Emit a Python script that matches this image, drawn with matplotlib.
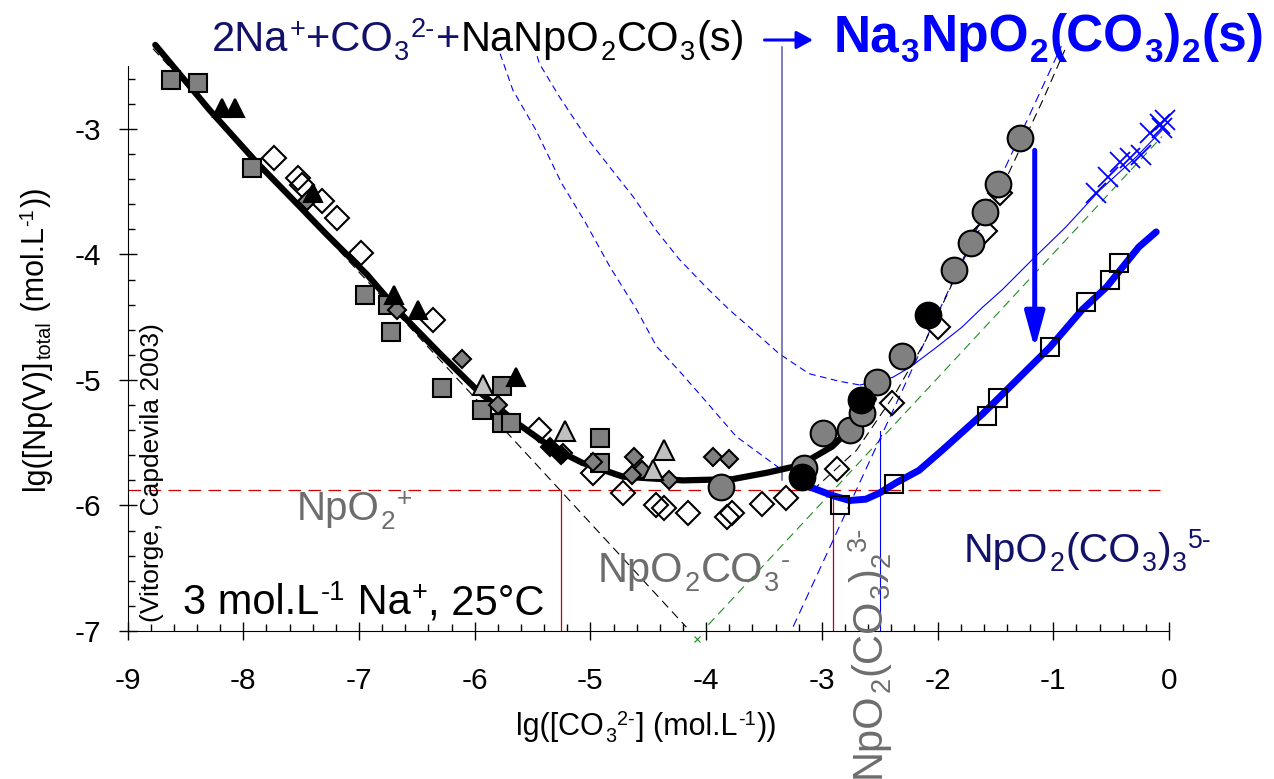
import matplotlib
matplotlib.use('Agg')
import matplotlib.pyplot as plt
import numpy as np
from matplotlib.transforms import IdentityTransform
from matplotlib.patches import FancyArrowPatch

plt.rcParams['font.family'] = ['Liberation Sans', 'DejaVu Sans']
plt.rcParams['axes.unicode_minus'] = False

# model curves
fit_x = [-8.76, -8.29, -7.88, -7.51, -7.28, -6.93, -6.65, -6.30, -5.98, -5.64,
         -5.35, -5.07, -4.72, -4.20, -3.77, -3.48, -3.19, -2.91, -2.70, -2.55]
fit_y = [-2.33, -2.85, -3.27, -3.62, -3.84, -4.16, -4.46, -4.79, -5.08, -5.34,
         -5.53, -5.66, -5.77, -5.80, -5.79, -5.74, -5.68, -5.53, -5.34, -5.15]
na3_x = [-3.11, -2.91, -2.76, -2.62, -2.50, -2.36, -2.16, -1.96, -1.61, -1.26,
         -1.03, -0.75, -0.54, -0.40, -0.26, -0.11]
na3_y = [-5.85, -5.92, -5.96, -5.95, -5.90, -5.82, -5.72, -5.56, -5.27, -4.95,
         -4.74, -4.44, -4.26, -4.10, -3.94, -3.82]
npo2_x = [-8.78, -4.17]
npo2_y = [-2.36, -6.97]
dic_x = [-3.98, -0.06]
dic_y = [-6.95, -3.06]
tri_x = [-3.30, -0.93]
tri_y = [-7.07, -2.34]
sum_x = [-3.08, -2.70, -2.36, -2.10, -1.78, -1.44, -1.09, -0.90]
sum_y = [-5.88, -5.56, -5.10, -4.68, -4.05, -3.46, -2.77, -2.37]
bl1_x = [-5.78, -5.67, -5.47, -5.25, -5.04, -4.83, -4.60, -4.43, -4.23, -4.03, -3.74, -3.34]
bl1_y = [-2.40, -2.69, -3.01, -3.43, -3.75, -4.10, -4.44, -4.73, -4.93, -5.14, -5.45, -5.72]
bl2_x = [-5.46, -5.44, -5.27, -5.04, -4.81, -4.63, -4.43, -4.23, -4.00, -3.80, -3.60,
         -3.37, -3.11, -2.85, -2.67]
bl2_y = [-2.42, -2.48, -2.74, -3.06, -3.33, -3.54, -3.81, -4.04, -4.26, -4.44, -4.60,
         -4.79, -4.95, -5.01, -5.04]
bl3_x = [-2.67, -2.39, -2.24, -2.01, -1.79, -1.61, -1.44, -1.18, -0.89, -0.60, -0.28, -0.06]
bl3_y = [-5.04, -4.98, -4.90, -4.74, -4.58, -4.42, -4.28, -4.04, -3.78, -3.49, -3.22, -3.01]
carb_level = -5.88

# experimental points
gsq_x = [-8.62, -8.39, -7.92, -6.95, -6.75, -6.72, -6.28, -5.94, -5.76, -5.76, -5.69, -4.92, -4.92]
gsq_y = [-2.61, -2.63, -3.31, -4.32, -4.40, -4.62, -5.06, -5.24, -5.05, -5.34, -5.34, -5.46, -5.66]
gdi_x = [-7.45, -6.67, -6.11, -5.80, -5.24, -4.98, -4.62, -4.55, -4.64, -4.32, -3.94, -3.80]
gdi_y = [-3.57, -4.44, -4.83, -5.20, -5.58, -5.65, -5.61, -5.72, -5.76, -5.80, -5.61, -5.63]
odi_x = [-7.73, -7.53, -7.49, -7.32, -7.19, -6.98, -6.36, -5.44, -4.98, -4.72, -4.43, -4.36,
         -4.16, -3.82, -3.78, -3.52, -3.31, -2.87, -2.39, -2.00, -1.59, -1.46]
odi_y = [-3.23, -3.39, -3.45, -3.57, -3.71, -3.99, -4.52, -5.40, -5.74, -5.90, -6.00, -6.02,
         -6.06, -6.09, -6.06, -5.99, -5.94, -5.71, -5.18, -4.58, -3.81, -3.51]
ltr_x = [-5.93, -5.22, -4.36, -4.46]
ltr_y = [-5.04, -5.41, -5.56, -5.72]
btr_x = [-8.18, -8.07, -7.40, -6.70, -6.49, -5.64]
btr_y = [-2.83, -2.83, -3.51, -4.32, -4.44, -4.98]
bdi_x = [-5.35, -5.25]
bdi_y = [-5.53, -5.60]
gci_x = [-3.87, -3.15, -2.99, -2.76, -2.65, -2.52, -2.31, -1.86, -1.71, -1.59, -1.48, -1.29]
gci_y = [-5.85, -5.70, -5.42, -5.40, -5.26, -5.02, -4.81, -4.12, -3.91, -3.66, -3.44, -3.07]
bci_x = [-3.17, -2.66, -2.08]
bci_y = [-5.77, -5.16, -4.48]
osq_x = [-2.84, -2.38, -1.57, -1.48, -1.03, -0.72, -0.51, -0.43]
osq_y = [-6.00, -5.83, -5.29, -5.14, -4.74, -4.38, -4.20, -4.07]
bx_x = [-0.63, -0.53, -0.42, -0.34, -0.24, -0.16, -0.08, -0.06, -0.03]
bx_y = [-3.51, -3.38, -3.26, -3.23, -3.21, -3.03, -2.96, -2.99, -2.93]

# formula labels: (text, n=normal / b=subscript / p=superscript)
lab_npo2 = [('NpO', 'n'), ('2', 'b'), ('+', 'p')]
lab_mono = [('NpO', 'n'), ('2', 'b'), ('CO', 'n'), ('3', 'b'), ('-', 'p')]
lab_di = [('NpO', 'n'), ('2', 'b'), ('(CO', 'n'), ('3', 'b'), (')', 'n'), ('2', 'b'), ('3-', 'p')]
lab_tri = [('NpO', 'n'), ('2', 'b'), ('(CO', 'n'), ('3', 'b'), (')', 'n'), ('3', 'b'), ('5-', 'p')]
lab_cond = [('3 mol.L', 'n'), ('-1', 'p'), (' Na', 'n'), ('+', 'p'), (', 25°C', 'n')]
lab_y = [('lg([Np(V)]', 'n'), ('total', 'b'), (' (mol.L', 'n'), ('-1', 'p'), ('))', 'n')]
lab_x = [('lg([CO', 'n'), ('3', 'b'), ('2-', 'p'), ('] (mol.L', 'n'), ('-1', 'p'), ('))', 'n')]
title_a = [('2Na', 'n'), ('+', 'p'), ('+CO', 'n'), ('3', 'b'), ('2-', 'p'), ('+', 'n')]
title_b = [('NaNpO', 'n'), ('2', 'b'), ('CO', 'n'), ('3', 'b'), ('(s)', 'n')]
title_c = [('Na', 'n'), ('3', 'b'), ('NpO', 'n'), ('2', 'b'), ('(CO', 'n'), ('3', 'b'),
           (')', 'n'), ('2', 'b'), ('(s)', 'n')]

fig = plt.figure(figsize=(12.74, 7.79), dpi=100)
ax = fig.add_axes([0.1001, 0.19, 0.8447, 0.7733])
ax.set_xlim(-9, 0.3)
ax.set_ylim(-7, -2.2)

# species lines
ax.plot(npo2_x, npo2_y, color='k', lw=0.8, ls=(0, (8, 5)), zorder=1)
ax.plot(dic_x, dic_y, color='#228b22', lw=0.8, ls=(0, (8, 5)), zorder=1)
ax.plot(tri_x, tri_y, color='blue', lw=0.8, ls=(0, (8, 5)), zorder=1)
ax.plot(sum_x, sum_y, color='k', lw=0.8, ls=(0, (8, 5)), zorder=1)
ax.plot(bl1_x, bl1_y, color='blue', lw=0.8, ls=(0, (6, 4)), zorder=1, clip_on=False)
ax.plot(bl2_x, bl2_y, color='blue', lw=0.8, ls=(0, (6, 4)), zorder=1, clip_on=False)
ax.plot(bl3_x, bl3_y, color='blue', lw=0.8, zorder=1)
ax.plot([-9, -0.08], [carb_level, carb_level], color='#cc0000', lw=0.9, ls=(0, (10, 6)), zorder=1)
ax.plot([-5.25, -5.25], [carb_level, -7], color='#cc0000', lw=0.9, zorder=1)
ax.plot([-2.90, -2.90], [carb_level, -7], color='#b0002a', lw=0.9, zorder=1)
ax.plot([-2.50, -2.50], [-5.41, -7], color='blue', lw=0.8, zorder=1)
ax.plot([-3.34, -3.34], [-5.80, -2.35], color='#5a5aa8', lw=1.1, zorder=1, clip_on=False)
ax.plot([-4.08], [-7.06], marker='x', ms=4, color='#228b22', mew=0.8, clip_on=False)

ax.plot(fit_x, fit_y, color='k', lw=4.5, zorder=2, solid_capstyle='round',
        solid_joinstyle='round', clip_on=False)
ax.plot(na3_x, na3_y, color='blue', lw=5, zorder=2, solid_capstyle='round', solid_joinstyle='round')

mk = dict(ls='none', mec='k', mew=1.5, clip_on=False)
ax.plot(odi_x, odi_y, marker='D', ms=12, mfc='none', zorder=3, **mk)
ax.plot(gsq_x, gsq_y, marker='s', ms=12.5, mfc='#808080', zorder=4, **mk)
ax.plot(gdi_x, gdi_y, marker='D', ms=9.5, mfc='#808080', zorder=4, **mk)
ax.plot(ltr_x, ltr_y, marker='^', ms=14, mfc='#c0c0c0', zorder=5, **mk)
ax.plot(btr_x, btr_y, marker='^', ms=13, mfc='k', zorder=5, **mk)
ax.plot(bdi_x, bdi_y, marker='D', ms=9.5, mfc='k', zorder=5, **mk)
ax.plot(gci_x, gci_y, marker='o', ms=18.5, mfc='#808080', zorder=6, **mk)
ax.plot(bci_x, bci_y, marker='o', ms=18.5, mfc='k', zorder=7, **mk)
ax.plot(osq_x, osq_y, marker='s', ms=13.5, mfc='none', zorder=6, **mk)
ax.plot(bx_x, bx_y, marker='x', ms=15, color='blue', mew=1.3, ls='none', zorder=6, clip_on=False)

ax.annotate('', xy=(-1.16, -4.75), xytext=(-1.16, -3.17),
            arrowprops=dict(arrowstyle='-|>,head_length=0.8,head_width=0.22',
                            color='blue', lw=3.6, mutation_scale=27, shrinkA=0, shrinkB=0),
            zorder=8)

# axes styling
for s in ('top', 'right'):
    ax.spines[s].set_visible(False)
ax.spines['left'].set_bounds(-7, -2.5)
ax.spines['bottom'].set_bounds(-9, 0)
ax.set_xticks(np.arange(-9, 1, 1))
ax.set_xticks(np.arange(-9, 0.01, 0.2), minor=True)
ax.set_yticks(np.arange(-7, -2.9, 1))
ax.set_yticks(np.arange(-7, -2.55, 0.2), minor=True)
ax.tick_params(which='major', direction='inout', length=13.5, width=1, labelsize=21.5)
ax.tick_params(which='minor', direction='in', length=5, width=1)
ax.tick_params(axis='x', which='major', pad=19)
ax.tick_params(axis='y', which='major', pad=12)

px = IdentityTransform()
renderer = fig.canvas.get_renderer()
H = 779


def rich(x, y, segs, size, rot=0, **kw):
    # draws text piece by piece so sub/superscripts sit after each other
    for s, m in segs:
        fs = size if m == 'n' else size * 0.65
        dy = {'n': 0.0, 'b': -0.22, 'p': 0.34}[m] * size * 100 / 72
        if rot == 0:
            tx, ty = x, y + dy
        else:
            tx, ty = x - dy, y
        t = fig.text(tx, ty, s, transform=px, fontsize=fs, rotation=rot,
                     rotation_mode='anchor', ha='left', va='baseline', **kw)
        bb = t.get_window_extent(renderer)
        if rot == 0:
            x = bb.x1 + 1
        else:
            y = bb.y1 + 1
    return x, y


gray = '#6d6d6d'
navy = '#12126b'
rich(297, H - 520, lab_npo2, 29, color=gray)
rich(598, H - 582, lab_mono, 30, color=gray)
rich(964, H - 562, lab_tri, 29.5, color=navy)
rich(183, H - 614, lab_cond, 30)
rich(880, H - 778, lab_di, 30, rot=90, color=gray)
fig.text(159, H - 622, '(Vitorge, Capdevila 2003)', transform=px, rotation=90,
         rotation_mode='anchor', ha='left', va='baseline', fontsize=19)
rich(44, H - 490, lab_y, 22, rot=90)
rich(516, H - 735, lab_x, 22)

# reaction written above the plot
x, _ = rich(212, H - 51, title_a, 30, color=navy)
x, _ = rich(x, H - 51, title_b, 30, color='k')
fig.patches.append(FancyArrowPatch((x + 16, H - 40), (x + 70, H - 40), transform=px,
                                   arrowstyle='-|>,head_length=0.55,head_width=0.3',
                                   mutation_scale=18, color='blue', lw=2.2))
rich(x + 88, H - 51, title_c, 37, color='blue', fontweight='bold')

fig.savefig('out.png', dpi=100)
